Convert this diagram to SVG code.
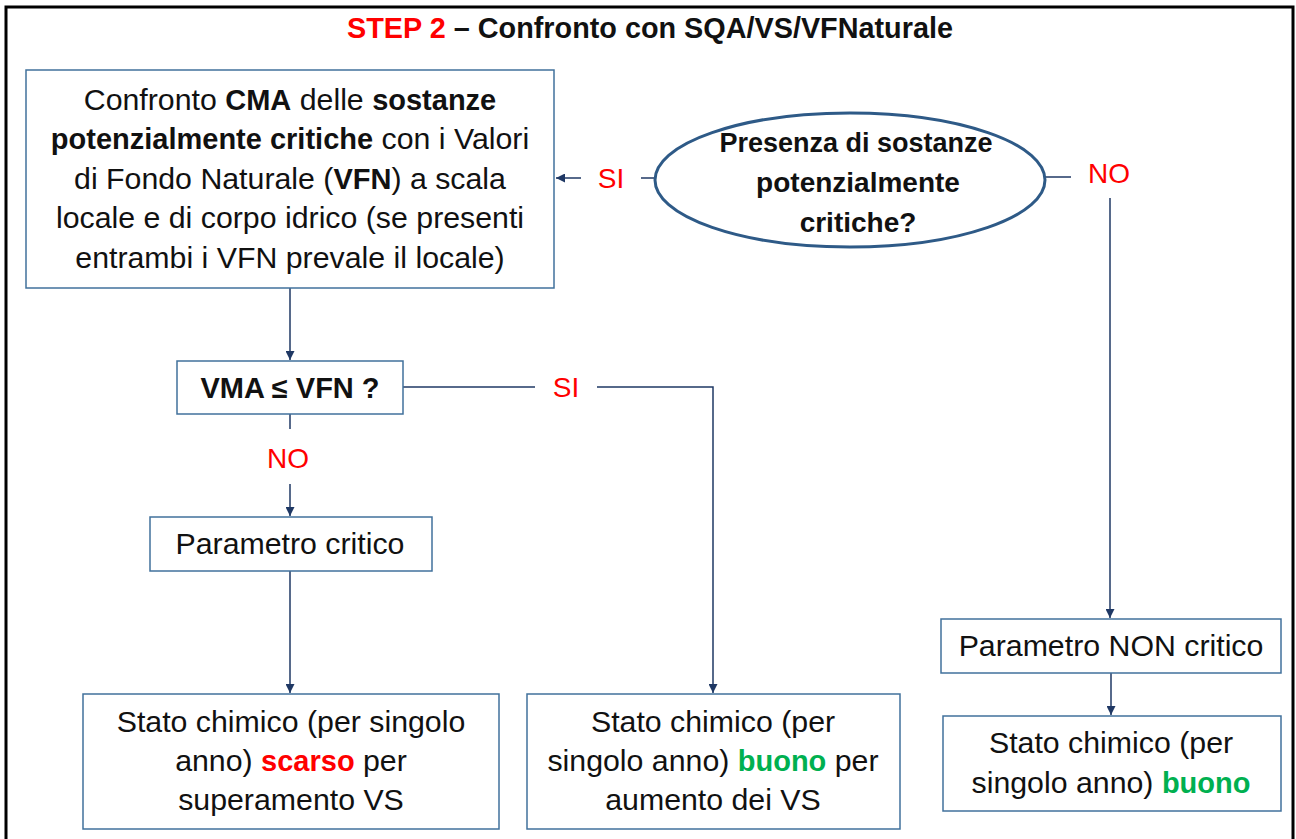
<svg xmlns="http://www.w3.org/2000/svg" width="1296" height="839" viewBox="0 0 1296 839">
<defs>
<style>
text{font-family:"Liberation Sans",Arial,sans-serif;fill:#111;}
.t{font-size:30.3px;text-anchor:middle;}
.tb{font-size:28px;font-weight:bold;text-anchor:middle;}
.bi{font-size:29px;font-weight:bold;}
.red{fill:#ff0000;}
.grn{fill:#00b050;}
.lbl{font-size:28px;fill:#ff0000;text-anchor:middle;}
.box{fill:#fff;stroke:#41719c;stroke-width:1.5;}
.con{fill:none;stroke:#1f3864;stroke-width:1.5;}
</style>
<marker id="ah" viewBox="0 0 10 10" refX="10" refY="5" markerWidth="9" markerHeight="9" markerUnits="userSpaceOnUse" orient="auto">
<path d="M0,0 L10,5 L0,10 z" fill="#1f3864"/>
</marker>
</defs>
<rect x="0" y="0" width="1296" height="839" fill="#fff"/>
<rect x="6" y="7" width="1287" height="840" fill="none" stroke="#000" stroke-width="3"/>

<g id="title">
<text x="650" y="38" class="tb" style="font-size:28.8px"><tspan class="red">STEP 2</tspan> – Confronto con SQA/VS/VFNaturale</text>
</g>

<g id="connectors">
<path class="con" d="M655,178 L641,178"/>
<path class="con" d="M581,178 L556,178" marker-end="url(#ah)"/>
<path class="con" d="M1045,177 L1071,177"/>
<path class="con" d="M1110,198 L1110,618" marker-end="url(#ah)"/>
<path class="con" d="M290,288 L290,360" marker-end="url(#ah)"/>
<path class="con" d="M403,387 L535,387"/>
<path class="con" d="M597,387 L713,387 L713,693" marker-end="url(#ah)"/>
<path class="con" d="M290,414 L290,429"/>
<path class="con" d="M290,484 L290,516" marker-end="url(#ah)"/>
<path class="con" d="M290,571 L290,693" marker-end="url(#ah)"/>
<path class="con" d="M1111,673 L1111,715" marker-end="url(#ah)"/>
<text x="611" y="188" class="lbl">SI</text>
<text x="1109" y="183" class="lbl">NO</text>
<text x="566" y="397" class="lbl">SI</text>
<text x="288" y="468" class="lbl">NO</text>
</g>

<g id="n-confronto">
<rect class="box" x="26" y="70" width="528" height="218"/>
<text class="t" x="290" y="110">Confronto <tspan class="bi">CMA</tspan> delle <tspan class="bi">sostanze</tspan></text>
<text class="t" x="290" y="149"><tspan class="bi">potenzialmente critiche</tspan> con i Valori</text>
<text class="t" x="290" y="189">di Fondo Naturale (<tspan class="bi">VFN</tspan>) a scala</text>
<text class="t" x="290" y="228">locale e di corpo idrico (se presenti</text>
<text class="t" x="290" y="268">entrambi i VFN prevale il locale)</text>
</g>

<g id="n-presenza">
<ellipse cx="850" cy="180" rx="195" ry="67" fill="#fff" stroke="#2e5a87" stroke-width="3"/>
<text class="tb" x="856" y="152" style="font-size:27px">Presenza di sostanze</text>
<text class="tb" x="858" y="192">potenzialmente</text>
<text class="tb" x="858" y="232">critiche?</text>
</g>

<g id="n-vma">
<rect class="box" x="177" y="361" width="226" height="53"/>
<text class="tb" x="290" y="398" style="font-size:29px">VMA ≤ VFN ?</text>
</g>

<g id="n-critico">
<rect class="box" x="150" y="517" width="282" height="54"/>
<text class="t" x="290" y="554">Parametro critico</text>
</g>

<g id="n-scarso">
<rect class="box" x="83" y="694" width="416" height="135"/>
<text class="t" x="291" y="732">Stato chimico (per singolo</text>
<text class="t" x="291" y="771">anno) <tspan class="bi red">scarso</tspan> per</text>
<text class="t" x="291" y="810">superamento VS</text>
</g>

<g id="n-buono-vs">
<rect class="box" x="527" y="694" width="373" height="135"/>
<text class="t" x="713" y="732">Stato chimico (per</text>
<text class="t" x="713" y="771">singolo anno) <tspan class="bi grn">buono</tspan> per</text>
<text class="t" x="713" y="810">aumento dei VS</text>
</g>

<g id="n-noncritico">
<rect class="box" x="941" y="619" width="340" height="54"/>
<text class="t" x="1111" y="656">Parametro NON critico</text>
</g>

<g id="n-buono">
<rect class="box" x="943" y="716" width="338" height="95"/>
<text class="t" x="1111" y="753">Stato chimico (per</text>
<text class="t" x="1111" y="793">singolo anno) <tspan class="bi grn">buono</tspan></text>
</g>
</svg>
